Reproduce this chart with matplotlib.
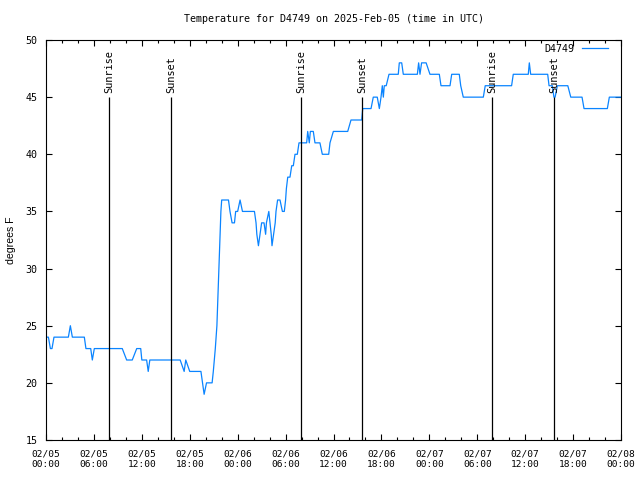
import matplotlib
matplotlib.use("Agg")
import matplotlib.pyplot as plt
import numpy as np

# Temperature readings (hours since 02/05 00:00 UTC, degrees F)
hours = [0.0, 0.3, 0.55, 0.75, 1.0, 2.8, 3.05, 3.3, 4.8, 5.0, 5.6, 5.8, 6.05,
         9.55, 10.1, 10.8, 11.36, 11.86, 12.0, 12.6, 12.8, 13.0, 16.8, 17.3,
         17.5, 18.0, 19.4, 19.6, 19.8, 20.1, 20.8, 20.95, 21.2, 21.4, 21.5,
         21.66, 21.8, 21.9, 22.0, 22.85, 23.04, 23.3, 23.6, 23.75, 24.0, 24.3,
         24.6, 26.1, 26.3, 26.4, 26.6, 26.8, 27.0, 27.3, 27.5, 27.6, 27.9,
         28.05, 28.2, 28.3, 28.5, 28.7, 28.8, 29.0, 29.3, 29.6, 29.84, 30.0,
         30.1, 30.27, 30.55, 30.77, 30.97, 31.18, 31.47, 31.68, 32.64, 32.77,
         32.97, 33.1, 33.47, 33.68, 34.3, 34.6, 35.4, 35.56, 35.98, 37.78,
         38.19, 39.53, 39.66, 40.7, 40.98, 41.48, 41.74, 41.95, 42.11, 42.24,
         42.36, 42.6, 42.95, 44.11, 44.24, 44.54, 44.74, 46.5, 46.66, 46.83,
         47.03, 47.6, 48.08, 49.25, 49.46, 50.59, 50.8, 51.75, 51.93, 52.25,
         54.76, 55.0, 58.3, 58.51, 60.39, 60.52, 60.69, 62.82, 62.99, 63.4,
         63.6, 63.75, 64.03, 65.34, 65.71, 67.12, 67.37, 70.29, 70.54, 72.0]
temps = [24, 24, 23, 23, 24, 24, 25, 24, 24, 23, 23, 22, 23,
         23, 22, 22, 23, 23, 22, 22, 21, 22, 22, 21,
         22, 21, 21, 20, 19, 20, 20, 21, 23, 25, 27,
         30, 33, 35, 36, 36, 35, 34, 34, 35, 35, 36,
         35, 35, 34, 33, 32, 33, 34, 34, 33, 34, 35,
         34, 33, 32, 33, 34, 35, 36, 36, 35, 35, 36,
         37, 38, 38, 39, 39, 40, 40, 41, 41, 42,
         41, 42, 42, 41, 41, 40, 40, 41, 42, 42,
         43, 43, 44, 44, 45, 45, 44, 45, 46, 45,
         46, 46, 47, 47, 48, 48, 47, 47, 48, 47,
         48, 48, 47, 47, 46, 46, 47, 47, 46, 45,
         45, 46, 46, 47, 47, 48, 47, 47, 46, 46,
         45, 45, 46, 46, 45, 45, 44, 44, 45, 45]

# sunrise / sunset markers
sun_times = [7.93, 15.65, 31.9, 39.62, 55.85, 63.65]
sun_labels = ["Sunrise", "Sunset", "Sunrise", "Sunset", "Sunrise", "Sunset"]

xtick_pos = [0, 6, 12, 18, 24, 30, 36, 42, 48, 54, 60, 66, 72]
xtick_labels = ["02/05\n00:00", "02/05\n06:00", "02/05\n12:00", "02/05\n18:00",
                "02/06\n00:00", "02/06\n06:00", "02/06\n12:00", "02/06\n18:00",
                "02/07\n00:00", "02/07\n06:00", "02/07\n12:00", "02/07\n18:00",
                "02/08\n00:00"]

mono = "DejaVu Sans Mono"

fig = plt.figure(figsize=(6.4, 4.8), dpi=100)
ax = fig.add_axes([46/640, 40/480, 575/640, 400/480])

ax.plot(hours, temps, color="#0a84ff", lw=0.9, label="D4749")
ax.vlines(sun_times, 15, 45, color="black", lw=0.9)
for t, lab in zip(sun_times, sun_labels):
    ax.text(t, 45.4, lab, rotation=90, ha="center", va="bottom",
            fontsize=7.4, family=mono)

ax.set_xlim(0, 72)
ax.set_ylim(15, 50)
ax.set_xticks(xtick_pos)
ax.set_xticklabels(xtick_labels, fontsize=6.8, family=mono, linespacing=1.25)
ax.set_xticks(np.arange(0, 73, 2), minor=True)
ax.set_yticks([15, 20, 25, 30, 35, 40, 45, 50])
ax.set_yticklabels(["15", "20", "25", "30", "35", "40", "45", "50"],
                   fontsize=7.2, family=mono)
ax.tick_params(which="both", direction="in", top=True, right=True)
ax.tick_params(which="major", length=4, width=0.8)
ax.tick_params(axis="x", which="major", pad=7)
ax.tick_params(axis="y", which="major", pad=6)
ax.tick_params(which="minor", length=2.5, width=0.8)
for s in ax.spines.values():
    s.set_linewidth(0.8)

fig.text(11/640, 0.5, "degrees F", rotation=90, ha="center", va="center",
         fontsize=7.6, family="Liberation Sans")
ax.text(0.5, 1 + 21/400, "Temperature for D4749 on 2025-Feb-05 (time in UTC)",
        transform=ax.transAxes, ha="center", va="center",
        fontsize=7.2, family=mono)

ax.legend(loc="upper right", bbox_to_anchor=((610 - 46)/575, 1 - 2/400),
          markerfirst=False, frameon=False,
          handlelength=2.6, handletextpad=0.8, borderaxespad=0, borderpad=0.2,
          prop={"family": mono, "size": 7.2})

plt.savefig("out.png", dpi=100)
plt.close()
